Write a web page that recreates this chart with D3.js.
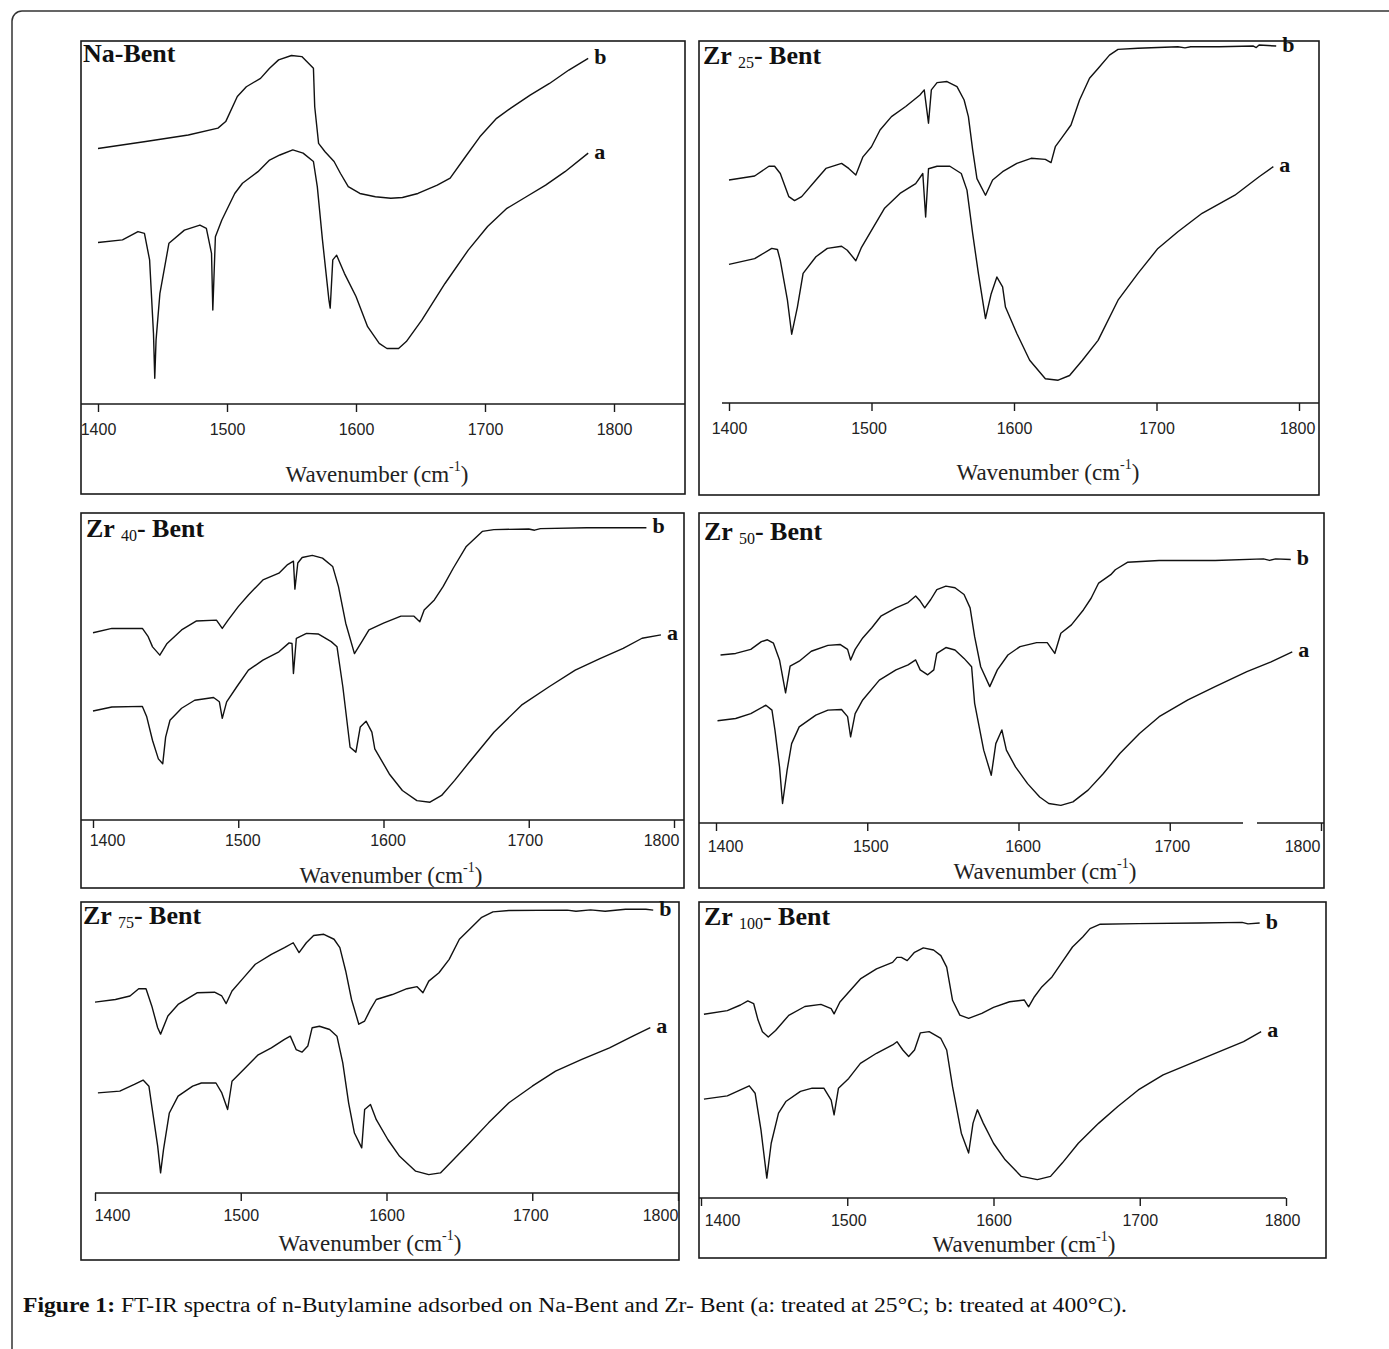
<!DOCTYPE html>
<html>
<head>
<meta charset="utf-8">
<script src="https://cdn.jsdelivr.net/npm/d3@7"></script>
<style>
body { margin: 0; background: #fff; }
svg { display: block; }
</style>
</head>
<body>
<script>
// wavenumber (cm-1) vs transmittance (arb. units: 0 = axis line, 100 = top of frame)
const ticks = [1400, 1500, 1600, 1700, 1800];
const zrLoads = ["25", "40", "50", "75", "100"];
const caption = "FT-IR spectra of n-Butylamine adsorbed on Na-Bent and Zr- Bent (a: treated at 25°C; b: treated at 400°C).";

const naBentB = [[1400,70.4],[1437,72.3],[1470,74.1],[1493,76],[1499,77.8],[1508,84.7],[1515,87.4],[1526,89.7],[1533,92.5],[1540,94.8],[1550,96],[1558,95.7],[1567,92.5],[1568,81.9],[1571,71.8],[1576,69.5],[1583,66.8],[1588,63.5],[1594,59.9],[1603,58],[1615,57.1],[1627,56.7],[1636,56.9],[1648,58],[1663,60.3],[1673,62.2],[1684,67.7],[1696,73.6],[1709,78.7],[1720,81.5],[1735,85.1],[1750,88.3],[1765,92],[1780,95.2]];
const naBentA = [[1400,44.5],[1419,45.2],[1431,47.5],[1436,47],[1440,39.7],[1443,19.5],[1444,7.1],[1445,17.6],[1448,30.5],[1455,44.3],[1467,47.9],[1479,49.3],[1484,48.4],[1488,41.5],[1489,25.9],[1491,46.1],[1496,50.7],[1506,58],[1512,60.8],[1524,64],[1533,67.2],[1541,68.6],[1551,70],[1559,69.1],[1567,66.8],[1570,59.9],[1574,45.2],[1579,28.7],[1580,26.4],[1582,39.7],[1585,41],[1591,36],[1600,29.6],[1609,21.3],[1618,16.7],[1624,15.3],[1633,15.3],[1639,17.2],[1651,23.1],[1669,33.2],[1687,42.4],[1702,48.9],[1717,53.9],[1732,57.1],[1747,60.3],[1762,64],[1780,69.1]];

const zr25B = [[1400,61.6],[1418,62.7],[1428,65.4],[1432,65.4],[1436,63.4],[1442,57],[1446,55.9],[1451,57],[1461,61.6],[1468,64.8],[1479,66.2],[1484,64.8],[1489,63],[1494,68],[1500,70.8],[1506,75.4],[1514,79.1],[1524,81.9],[1534,85.1],[1537,86.5],[1540,77.3],[1542,86.5],[1546,88.5],[1553,88.8],[1560,87.4],[1565,83.7],[1568,79.1],[1571,69.9],[1574,62],[1580,57.4],[1585,61.6],[1592,63.9],[1602,66.2],[1612,67.6],[1622,67.3],[1626,66.4],[1629,70.8],[1634,73.5],[1640,76.8],[1646,83.7],[1653,89.7],[1659,92.4],[1667,96.1],[1673,97.7],[1687,98],[1715,98.4],[1720,98.1],[1724,98.4],[1744,98.4],[1768,98.6],[1770,98.2],[1772,98.9],[1784,98.6]];
const zr25A = [[1400,38.3],[1418,39.9],[1430,42.7],[1434,42.4],[1436,39.4],[1441,28.4],[1444,19],[1448,26.5],[1452,35.8],[1461,40.4],[1469,42.7],[1479,43.3],[1483,42.2],[1489,39.3],[1493,43],[1500,47.7],[1509,53.7],[1520,57.9],[1531,60.6],[1536,63.4],[1538,51.4],[1540,64.7],[1546,65.4],[1555,65.4],[1563,63.4],[1567,58.8],[1571,46.8],[1575,35.8],[1580,23.3],[1584,30.2],[1588,34.8],[1592,32.1],[1594,26.5],[1602,19.2],[1611,11.8],[1622,6.7],[1631,6.3],[1639,7.6],[1648,11.8],[1659,17.3],[1673,28.4],[1687,35.8],[1701,42.7],[1715,47.3],[1732,52.4],[1755,57.4],[1772,62.5],[1782,65.3]];

const zr40B = [[1400,61],[1413,62.4],[1434,62.4],[1438,59.7],[1441,56.4],[1446,53.7],[1451,57.5],[1461,61.9],[1471,64.8],[1485,65.1],[1489,62.4],[1493,65.1],[1500,69.5],[1507,73.3],[1517,78.2],[1528,80.4],[1534,83.2],[1538,84.3],[1539,75.2],[1541,83.7],[1544,85.5],[1551,86.2],[1558,85.3],[1565,82.6],[1569,76],[1574,64.1],[1580,54.2],[1585,58],[1590,61.9],[1600,64.1],[1612,66.4],[1621,66.4],[1625,64.6],[1628,68.4],[1635,71.7],[1641,76],[1648,82],[1657,89.1],[1668,94],[1676,94.6],[1700,94.8],[1704,94.4],[1708,94.9],[1740,95.2],[1781,95.2]];
const zr40A = [[1400,35.5],[1413,36.8],[1434,37],[1437,33.6],[1441,25.9],[1445,19.9],[1448,18.3],[1450,27],[1453,32.5],[1461,36.4],[1470,39],[1483,39.9],[1487,38.5],[1489,33.1],[1492,38.5],[1499,43.4],[1507,48.8],[1517,52.1],[1528,54.8],[1535,57.7],[1537,57.5],[1538,47.7],[1540,59.2],[1547,60.8],[1555,60.6],[1564,58.1],[1568,56.4],[1572,43.4],[1577,23.7],[1581,22.1],[1584,30.3],[1588,32.2],[1592,28.6],[1594,23.2],[1604,15],[1613,9.6],[1623,6.3],[1632,5.8],[1640,8],[1649,12.9],[1660,19.4],[1676,28.6],[1695,37.4],[1714,43.4],[1732,48.8],[1749,52.6],[1765,55.9],[1778,59.2],[1791,60.3]];

const zr50B = [[1403,54.2],[1413,54.7],[1423,56],[1430,58.5],[1434,59.1],[1438,58],[1442,52.6],[1446,42],[1449,50.6],[1455,52.2],[1463,55.4],[1474,57.3],[1482,57.6],[1487,56],[1489,52.6],[1492,56],[1497,59.7],[1503,63],[1509,66.7],[1519,69.4],[1527,71.1],[1532,73.2],[1535,71.6],[1538,69.4],[1542,72.1],[1546,75.3],[1552,76.4],[1558,75.9],[1564,73.7],[1568,69.4],[1571,60.1],[1575,50.4],[1581,44],[1586,49.4],[1593,54.2],[1601,56.9],[1612,58.2],[1619,58.2],[1624,54.7],[1628,61.2],[1635,63.9],[1643,68.8],[1648,72.5],[1653,77.4],[1661,80.1],[1664,81.7],[1672,84.1],[1693,84.7],[1730,84.7],[1762,85.2],[1766,84.7],[1770,85.2],[1780,85]];
const zr50A = [[1401,33],[1413,33.7],[1423,35.3],[1433,38],[1437,36.4],[1439,29.9],[1442,18.1],[1444,6.3],[1447,17],[1450,25.6],[1455,31],[1466,34.8],[1474,36.4],[1483,36.6],[1487,34.3],[1489,27.8],[1492,35.3],[1497,39.7],[1508,46.1],[1519,49.4],[1527,51],[1532,52.6],[1535,49.4],[1540,47.8],[1544,49.4],[1546,54.7],[1552,56.6],[1558,55.8],[1564,53.1],[1569,50.4],[1571,38.6],[1577,23.5],[1582,15.4],[1585,25.6],[1589,30],[1592,23.5],[1598,18.1],[1606,12.7],[1614,8.4],[1620,6.3],[1628,5.7],[1636,6.8],[1646,10.6],[1656,15.9],[1667,22.4],[1680,28.9],[1693,34.3],[1712,39.7],[1730,44],[1751,48.8],[1767,52],[1781,55.2]];

const zr75B = [[1400,65.6],[1414,66.5],[1424,67.7],[1430,70.2],[1435,70.2],[1439,64.2],[1443,56.8],[1445,54.6],[1450,60.8],[1457,64.8],[1470,68.8],[1482,69],[1487,67.7],[1490,65.1],[1494,69.4],[1502,74],[1510,78.6],[1521,82],[1530,84.3],[1536,86],[1540,82.6],[1545,86],[1550,88.5],[1557,88.9],[1564,87.2],[1568,84.3],[1572,76.3],[1576,66.5],[1581,58],[1585,59.1],[1589,63.1],[1593,66.5],[1604,68.2],[1614,70.2],[1621,70.9],[1625,68.8],[1629,72.8],[1636,75.7],[1643,80.3],[1650,87.2],[1657,90.6],[1665,94.6],[1673,96.6],[1684,97.1],[1724,97.2],[1730,96.8],[1740,97.3],[1750,96.8],[1764,97.5],[1778,97.5],[1783,97.2]];
const zr75A = [[1402,34.4],[1417,35],[1427,37.3],[1433,38.8],[1437,36.7],[1439,29.8],[1443,16.1],[1445,6.9],[1447,14.9],[1451,27.5],[1457,33.3],[1467,36.7],[1473,37.8],[1483,37.8],[1487,34.4],[1491,28.7],[1494,38.4],[1502,42.4],[1512,47.5],[1521,49.9],[1530,52.8],[1534,53.9],[1538,49.3],[1542,48.4],[1546,50.5],[1549,56.8],[1554,57.3],[1561,56.2],[1566,53.9],[1570,44.7],[1574,31],[1578,20.6],[1583,15.5],[1585,28.7],[1589,30.4],[1593,25.2],[1601,18.3],[1609,12.6],[1620,7.5],[1629,6.3],[1637,6.9],[1646,11.5],[1657,17.2],[1670,24.1],[1684,31],[1700,36.7],[1716,41.9],[1734,45.9],[1753,49.9],[1769,53.9],[1781,56.8]];

const zr100B = [[1402,62.1],[1418,63.3],[1427,65.2],[1432,66.6],[1436,65.7],[1439,60.1],[1442,56.2],[1446,54.4],[1451,56.6],[1460,61.7],[1471,64.7],[1482,65.4],[1489,64],[1491,62.2],[1495,66.2],[1502,70.1],[1509,74],[1520,77.4],[1531,79.6],[1534,81.3],[1537,81.3],[1541,80.2],[1546,83],[1552,84.5],[1559,83.8],[1564,81.9],[1568,78],[1572,66.8],[1577,61.8],[1583,60.7],[1592,62.4],[1600,64.4],[1611,66.3],[1621,66.9],[1624,64.6],[1628,68],[1633,71.3],[1640,74.7],[1647,79.8],[1654,84.8],[1661,88.2],[1666,91],[1673,92.5],[1699,92.7],[1741,92.9],[1770,93.1],[1774,92.6],[1782,92.9]];
const zr100A = [[1402,33.4],[1418,34.5],[1427,36.5],[1433,37.9],[1437,35.4],[1441,23],[1445,6.7],[1448,18.5],[1453,28.7],[1458,32.6],[1468,36],[1476,37.1],[1484,37.1],[1489,33.1],[1491,28.1],[1494,37.1],[1501,40.4],[1509,45.5],[1520,48.9],[1531,51.7],[1534,52.8],[1538,50],[1542,47.8],[1546,50],[1550,55.8],[1556,56.2],[1564,53.9],[1568,50],[1572,37.6],[1578,21.9],[1583,15.2],[1586,25.3],[1589,29.8],[1593,25.3],[1600,18.5],[1608,12.9],[1619,7.3],[1630,6.2],[1639,7.3],[1647,11.8],[1658,18.5],[1672,25.3],[1685,30.9],[1699,36.5],[1716,41.6],[1735,45.5],[1754,49.4],[1771,52.8],[1783,56.2]];

// panel frames (pixels); labDx nudges tick labels the way the scan has them
const panels = [
  { sub: null, a: naBentA, b: naBentB, box: [81, 41, 685, 494], axisY: 404, tx: [98, 614], line: [[81, 685]], labY: 430, labDx: [0, 0, 0, 0, 0], title: [377, 474], name: [83, 62] },
  { sub: zrLoads[0], a: zr25A, b: zr25B, box: [699, 41, 1319, 495], axisY: 403, tx: [729, 1299], line: [[722, 1319]], labY: 429, labDx: [0, -3, 0, 0, -2], title: [1048, 472], name: [703, 64] },
  { sub: zrLoads[1], a: zr40A, b: zr40B, box: [81, 513, 684, 888], axisY: 820, tx: [93, 674], line: [[81, 684]], labY: 841, labDx: [14, 4, 4, -4, -13], title: [391, 875], name: [86, 537] },
  { sub: zrLoads[2], a: zr50A, b: zr50B, box: [699, 513, 1324, 888], axisY: 823, tx: [716, 1321], line: [[699, 1243], [1257, 1324]], labY: 847, labDx: [9, 3, 4, 2, -19], title: [1045, 871], name: [704, 540] },
  { sub: zrLoads[3], a: zr75A, b: zr75B, box: [81, 902, 679, 1260], axisY: 1193, tx: [95, 678], line: [[95, 679]], labY: 1216, labDx: [17, 0, 0, -2, -18], title: [370, 1243], name: [83, 924] },
  { sub: zrLoads[4], a: zr100A, b: zr100B, box: [699, 902, 1326, 1258], axisY: 1198, tx: [701, 1286], line: [[699, 1286]], labY: 1221, labDx: [21, 1, 0, 0, -4], title: [1024, 1244], name: [704, 925] }
];

const W = 1389, H = 1349;
const svg = d3.select("body").append("svg")
  .attr("width", W)
  .attr("height", H);

// outer frame, runs off the right and bottom edges
svg.append("rect")
  .attr("x", 12).attr("y", 11)
  .attr("width", 1500).attr("height", 1500)
  .attr("rx", 10)
  .attr("fill", "none")
  .attr("stroke", "#333")
  .attr("stroke-width", 1.5);

panels.forEach(function(p) {
  const [bx0, by0, bx1, by1] = p.box;
  const g = svg.append("g");

  const x = d3.scaleLinear().domain([1400, 1800]).range(p.tx);
  const y = d3.scaleLinear().domain([0, 100]).range([p.axisY, by0]);

  g.append("rect")
    .attr("x", bx0).attr("y", by0)
    .attr("width", bx1 - bx0).attr("height", by1 - by0)
    .attr("fill", "none")
    .attr("stroke", "#1a1a1a")
    .attr("stroke-width", 1.6);

  // axis line (own extents), ticks from d3 axis
  p.line.forEach(function(seg) {
    g.append("line")
      .attr("x1", seg[0]).attr("x2", seg[1])
      .attr("y1", p.axisY).attr("y2", p.axisY)
      .attr("stroke", "#1a1a1a")
      .attr("stroke-width", 1.6);
  });

  const ax = g.append("g")
    .attr("transform", "translate(0," + p.axisY + ")")
    .call(d3.axisBottom(x).tickValues(ticks).tickSize(8)
      .tickPadding(p.labY - p.axisY - 8 - 6)
      .tickFormat(d3.format("d")));
  ax.select(".domain").remove();
  ax.selectAll(".tick line").attr("stroke", "#1a1a1a").attr("stroke-width", 1.4);
  ax.selectAll(".tick text")
    .attr("x", (d, i) => p.labDx[i])
    .attr("fill", "#222")
    .style("font-family", "'Liberation Sans', Arial, sans-serif")
    .style("font-size", "16px");

  const t = g.append("text")
    .attr("x", p.title[0]).attr("y", p.title[1])
    .attr("text-anchor", "middle")
    .attr("dominant-baseline", "central")
    .style("font-family", "'Liberation Serif', 'Times New Roman', serif")
    .style("font-size", "23px")
    .attr("fill", "#222");
  t.append("tspan").text("Wavenumber (cm");
  t.append("tspan").attr("dy", -8).style("font-size", "14px").text("-1");
  t.append("tspan").attr("dy", 8).text(")");

  const nm = g.append("text")
    .attr("x", p.name[0]).attr("y", p.name[1])
    .style("font-family", "'Liberation Serif', 'Times New Roman', serif")
    .style("font-weight", "bold")
    .style("font-size", "26px")
    .attr("fill", "#111");
  if (p.sub === null) {
    nm.text("Na-Bent");
  } else {
    nm.append("tspan").text("Zr ");
    nm.append("tspan").attr("dy", 4).style("font-size", "16px").style("font-weight", "normal").text(p.sub);
    nm.append("tspan").attr("dy", -4).text("- Bent");
  }

  const line = d3.line()
    .x(d => x(d[0]))
    .y(d => y(d[1]));

  [["a", p.a], ["b", p.b]].forEach(function(s) {
    g.append("path")
      .datum(s[1])
      .attr("d", line)
      .attr("fill", "none")
      .attr("stroke", "#111")
      .attr("stroke-width", 1.4)
      .attr("stroke-linejoin", "round");
    const last = s[1][s[1].length - 1];
    g.append("text")
      .attr("x", x(last[0]) + 6)
      .attr("y", y(last[1]) - 2)
      .attr("dominant-baseline", "central")
      .style("font-family", "'Liberation Serif', 'Times New Roman', serif")
      .style("font-weight", "bold")
      .style("font-size", "22px")
      .attr("fill", "#111")
      .text(s[0]);
  });
});

// caption
const cap = svg.append("text")
  .attr("x", 23).attr("y", 1312)
  .style("font-family", "'Liberation Serif', 'Times New Roman', serif")
  .style("font-size", "20px")
  .attr("fill", "#111");
cap.append("tspan").style("font-weight", "bold").text("Figure 1: ");
cap.append("tspan").text(caption);
const natural = cap.node().getComputedTextLength();
if (Math.abs(natural - 1104) > 4) {
  cap.attr("textLength", 1104).attr("lengthAdjust", "spacingAndGlyphs");
}
</script>
</body>
</html>
